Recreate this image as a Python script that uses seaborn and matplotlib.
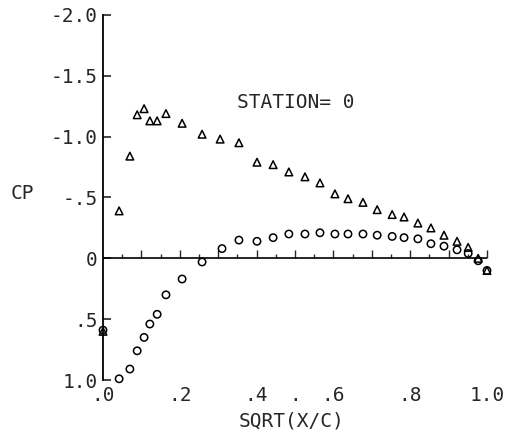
import numpy as np
import pandas as pd
from matplotlib import pyplot as plt
import seaborn as sns

# sqrt(x/c) stations and pressure coefficients
x_upper = [0.0, 0.042, 0.070, 0.089, 0.107, 0.122, 0.141, 0.164, 0.206, 0.258,
           0.305, 0.354, 0.401, 0.443, 0.484, 0.526, 0.565, 0.604, 0.638, 0.677,
           0.714, 0.753, 0.784, 0.820, 0.854, 0.888, 0.922, 0.951, 0.977, 1.0]
cp_upper = [0.60, -0.39, -0.84, -1.18, -1.23, -1.13, -1.13, -1.19, -1.11, -1.02,
            -0.98, -0.95, -0.79, -0.77, -0.71, -0.67, -0.62, -0.53, -0.49, -0.46,
            -0.40, -0.36, -0.34, -0.29, -0.25, -0.19, -0.14, -0.09, 0.00, 0.10]
x_lower = [0.0, 0.042, 0.070, 0.089, 0.107, 0.122, 0.141, 0.164, 0.206, 0.258,
           0.310, 0.354, 0.401, 0.443, 0.484, 0.526, 0.565, 0.604, 0.638, 0.677,
           0.714, 0.753, 0.784, 0.820, 0.854, 0.888, 0.922, 0.951, 0.977, 1.0]
cp_lower = [0.59, 0.99, 0.91, 0.76, 0.65, 0.54, 0.46, 0.30, 0.17, 0.03,
            -0.08, -0.15, -0.14, -0.17, -0.20, -0.20, -0.21, -0.20, -0.20, -0.20,
            -0.19, -0.18, -0.17, -0.16, -0.12, -0.10, -0.07, -0.04, 0.02, 0.10]

yticks = [-2.0, -1.5, -1.0, -0.5, 0.0, 0.5, 1.0]
ytick_labels = ['-2.0', '-1.5', '-1.0', '-.5', '0', '.5', '1.0']
xticks = [0.0, 0.2, 0.4, 0.5, 0.6, 0.8, 1.0]
xtick_labels = ['.0', '.2', '.4', '.', '.6', '.8', '1.0']

upper = pd.DataFrame({'x': x_upper, 'cp': cp_upper})
lower = pd.DataFrame({'x': x_lower, 'cp': cp_lower})

sns.set_style('white')
plt.rcParams['font.family'] = ['DejaVu Sans Mono']

fig = plt.figure(figsize=(5.21, 4.36), dpi=100)
ax = fig.add_axes([103 / 521, 56 / 436, 384 / 521, 365 / 436])

sns.scatterplot(data=lower, x='x', y='cp', marker='o', s=28, facecolor='none',
                edgecolor='black', linewidth=1.1, ax=ax, clip_on=False)
sns.scatterplot(data=upper, x='x', y='cp', marker='^', s=30, facecolor='none',
                edgecolor='black', linewidth=1.1, ax=ax, clip_on=False)

ax.set_xlim(0, 1.0)
ax.set_ylim(1.0, -2.0)

# line at cp = 0 with small upward ticks
ax.axhline(0, color='black', lw=1.2, zorder=1)
sec = ax.secondary_xaxis(1 / 3)
sec.set_xticks(np.arange(0.1, 1.01, 0.1))
sec.set_xticks(np.arange(0.05, 1.0, 0.1), minor=True)
sec.tick_params(which='major', direction='in', length=6, width=1, labelbottom=False, labeltop=False)
sec.tick_params(which='minor', direction='in', length=3, width=1)
for s in sec.spines.values():
    s.set_visible(False)

for side in ['top', 'right', 'bottom']:
    ax.spines[side].set_visible(False)
ax.spines['left'].set_linewidth(1.3)
ax.spines['left'].set_color('black')

ax.set_yticks(yticks)
ax.set_yticklabels(ytick_labels)
ax.set_xticks(xticks)
ax.set_xticklabels(xtick_labels)
ax.tick_params(axis='y', which='major', direction='in', length=6, width=1.2, pad=4,
               labelsize=14, left=True, right=False)
ax.tick_params(axis='x', length=0, pad=4, labelsize=14)

ax.set_xlabel('SQRT(X/C)', fontsize=14)
ax.xaxis.set_label_coords(0.49, -0.085)
ax.set_ylabel('')
ax.text(-0.21, 0.512, 'CP', transform=ax.transAxes, fontsize=14, ha='center', va='center')
ax.text(0.349, -1.28, 'STATION= 0', fontsize=14, ha='left', va='center')

fig.savefig('out.png', dpi=100)
